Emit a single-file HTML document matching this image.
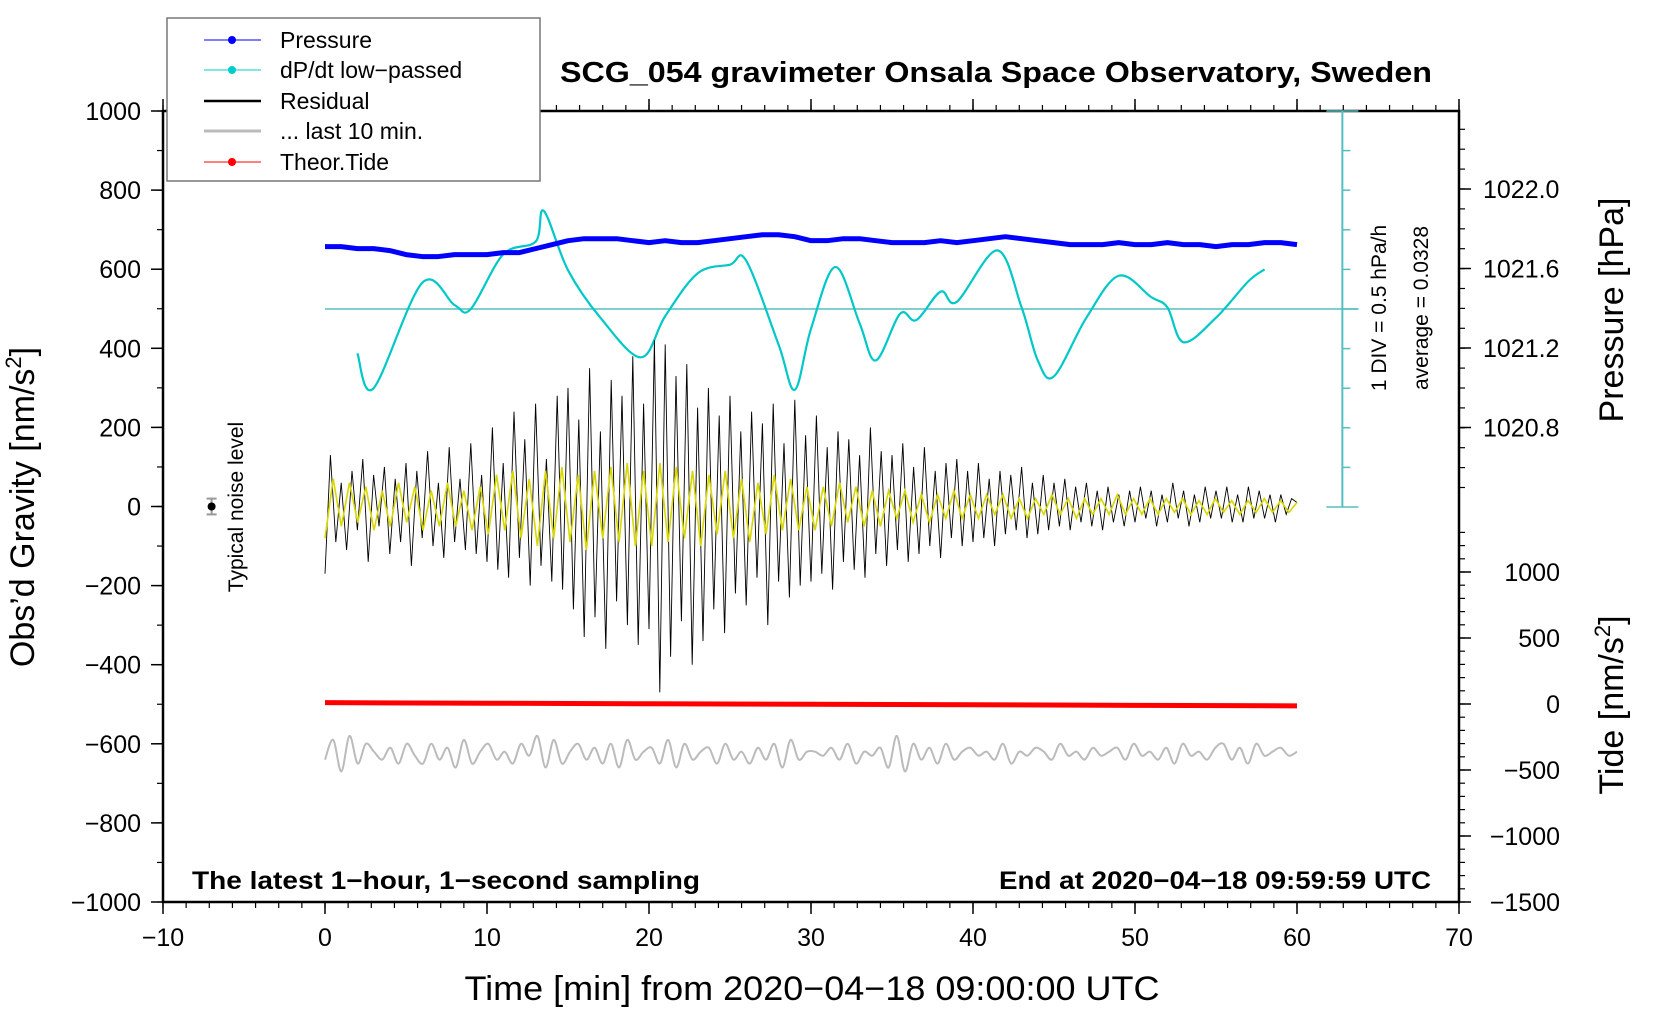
<!DOCTYPE html>
<html><head><meta charset="utf-8"><title>SCG_054 gravimeter</title>
<style>
html,body{margin:0;padding:0;background:#fff;}
svg{display:block;font-family:"Liberation Sans",sans-serif;}
</style></head>
<body>
<svg id="chart" width="1660" height="1020" viewBox="0 0 1660 1020" xmlns="http://www.w3.org/2000/svg">
<rect width="1660" height="1020" fill="#fff"/>
<g id="axes"></g>
<g id="marks"></g>
<text x="996" y="82" text-anchor="middle" font-size="29" font-weight="bold" textLength="872" lengthAdjust="spacingAndGlyphs">SCG_054 gravimeter Onsala Space Observatory, Sweden</text>
<text x="192" y="889" font-size="25" font-weight="bold" textLength="508" lengthAdjust="spacingAndGlyphs">The latest 1−hour, 1−second sampling</text>
<text x="1431" y="889" text-anchor="end" font-size="25" font-weight="bold" textLength="432" lengthAdjust="spacingAndGlyphs">End at 2020−04−18 09:59:59 UTC</text>
<text x="812" y="1000" text-anchor="middle" font-size="34" textLength="695" lengthAdjust="spacingAndGlyphs">Time [min] from 2020−04−18 09:00:00 UTC</text>
<text transform="translate(34,507) rotate(-90)" text-anchor="middle" font-size="34">Obs’d Gravity [nm/s<tspan font-size="22" dy="-13">2</tspan><tspan dy="13">]</tspan></text>
<text transform="translate(1623,310) rotate(-90)" text-anchor="middle" font-size="34">Pressure [hPa]</text>
<text transform="translate(1623,705) rotate(-90)" text-anchor="middle" font-size="34">Tide [nm/s<tspan font-size="22" dy="-13">2</tspan><tspan dy="13">]</tspan></text>
<text transform="translate(1386,308) rotate(-90)" text-anchor="middle" font-size="21">1 DIV = 0.5 hPa/h</text>
<text transform="translate(1428,308) rotate(-90)" text-anchor="middle" font-size="21">average = 0.0328</text>
<text transform="translate(243,507) rotate(-90)" text-anchor="middle" font-size="21">Typical noise level</text>
<g>
<rect x="167" y="18" width="373" height="163" fill="#fff" stroke="#777" stroke-width="1.5"/>
<g><line x1="204" y1="40" x2="261" y2="40" stroke="#0000ff" stroke-width="1"/><circle cx="232" cy="40" r="4" fill="#0000ff"/><text x="280" y="48" font-size="23">Pressure</text></g>
<g><line x1="204" y1="70" x2="261" y2="70" stroke="#00cccc" stroke-width="1"/><circle cx="232" cy="70" r="4" fill="#00cccc"/><text x="280" y="78" font-size="23">dP/dt low−passed</text></g>
<g><line x1="204" y1="101" x2="261" y2="101" stroke="#000" stroke-width="2.5"/><text x="280" y="109" font-size="23">Residual</text></g>
<g><line x1="204" y1="131" x2="261" y2="131" stroke="#bbb" stroke-width="3"/><text x="280" y="139" font-size="23">... last 10 min.</text></g>
<g><line x1="204" y1="162" x2="261" y2="162" stroke="#ff0000" stroke-width="1"/><circle cx="232" cy="162" r="4" fill="#ff0000"/><text x="280" y="170" font-size="23">Theor.Tide</text></g>
</g>
</svg>
<script>
const residual = [-170,130,-90,60,-110,90,-60,120,-140,80,-50,100,-120,70,-90,
110,-150,90,-80,140,-100,60,-130,150,-90,70,-110,160,-120,80,
-140,200,-160,110,-180,240,-130,170,-200,260,-150,120,-190,280,-210,
300,-260,220,-330,350,-280,190,-360,320,-240,280,-300,380,-350,260,
-310,420,-470,410,-380,330,-290,360,-400,250,-340,300,-260,230,-320,
280,-220,190,-250,240,-180,210,-300,260,-190,160,-230,270,-200,180,
-190,230,-170,150,-210,190,-140,170,-160,130,-180,200,-120,140,-150,
130,-110,160,-140,100,-120,150,-100,90,-130,110,-80,120,-100,90,
-90,110,-80,70,-100,90,-70,80,-60,100,-80,60,-70,80,-60,
60,-50,70,-60,50,-40,60,-50,40,-60,50,-40,30,-50,40,
-40,50,-30,40,-50,30,-40,60,-30,40,-50,30,-40,50,-30,
40,-30,50,-40,30,-40,50,-30,40,-30,30,-40,30,-20,20,10];
const residualFiltered = [-80,70,-50,60,-40,50,-60,40,-50,60,-40,50,-60,40,-50,60,-50,40,-60,50,
-70,80,-60,90,-80,70,-100,90,-80,100,-90,80,-110,90,-80,100,-90,110,-100,90,
-100,110,-90,100,-80,90,-100,80,-70,90,-80,70,-90,60,-70,80,-60,70,-60,50,
-60,50,-50,60,-40,50,-50,40,-50,40,-30,40,-40,30,-40,30,-30,40,-30,30,
-30,30,-20,30,-30,20,-30,20,-20,30,-20,20,-30,20,-20,20,-20,30,-20,20,
-20,20,-20,20,-15,20,-20,15,-20,20,-15,15,-20,15,-15,20,-15,15,-15,10];
const last10 = [-640,-590,-670,-580,-650,-600,-620,-640,-610,-650,-600,-630,-650,-600,-640,-610,-660,-590,-650,-620,
-600,-640,-620,-650,-600,-630,-580,-660,-590,-650,-620,-600,-640,-610,-650,-600,-660,-590,-640,-620,
-610,-650,-590,-660,-600,-640,-620,-610,-650,-600,-640,-620,-650,-610,-640,-600,-660,-590,-640,-620,
-620,-630,-610,-640,-600,-650,-620,-630,-610,-660,-580,-670,-600,-640,-610,-650,-600,-640,-620,-610,
-630,-620,-640,-600,-650,-620,-630,-610,-620,-640,-600,-630,-620,-640,-610,-630,-620,-610,-640,-600,
-630,-620,-640,-610,-650,-600,-630,-620,-640,-610,-600,-640,-610,-650,-600,-630,-620,-610,-630,-620];
const pressure = [1021.71,1021.71,1021.70,1021.70,1021.69,1021.67,1021.66,1021.66,1021.67,1021.67,1021.67,1021.68,1021.68,1021.70,1021.72,1021.74,1021.75,1021.75,1021.75,1021.74,1021.73,1021.74,1021.73,1021.73,1021.74,1021.75,1021.76,1021.77,1021.77,1021.76,1021.74,1021.74,1021.75,1021.75,1021.74,1021.73,1021.73,1021.73,1021.74,1021.73,1021.74,1021.75,1021.76,1021.75,1021.74,1021.73,1021.72,1021.72,1021.72,1021.73,1021.72,1021.72,1021.73,1021.72,1021.72,1021.71,1021.72,1021.72,1021.73,1021.73,1021.72];
const dpdtTimes = [2,3,6,8,9,11,13,13.5,15,17,19.5,21,23,25,26,28,29,30,31.5,33,34,35.5,36.5,38,39,41.5,43,44,45,47,49,51,52,53,55,57,58];
const dpdtValues = [-0.56,-1.0,0.33,0.05,0,0.69,0.85,1.24,0.49,-0.11,-0.61,-0.09,0.45,0.56,0.61,-0.45,-1.02,-0.25,0.53,-0.18,-0.65,-0.06,-0.14,0.22,0.09,0.74,0.02,-0.65,-0.85,-0.11,0.42,0.15,0.02,-0.42,-0.11,0.35,0.5];
const tideTimes = [0,10,20,30,40,50,60];
const tideValues = [10,6,2,-2,-6,-10,-14];
const xTicks = [-10,0,10,20,30,40,50,60,70];
const gravTicks = [1000,800,600,400,200,0,-200,-400,-600,-800,-1000];
const pressTicks = [1022.0,1021.6,1021.2,1020.8];
const tideTicks = [1000,500,0,-500,-1000,-1500];

const L=163,R=1459,T=111,B=902;
const X = t => L + (t+10)*(R-L)/80;
const Y = g => T + (1000-g)*(B-T)/2000;
const YP = p => 189 + (1022.0-p)*(79.5/0.4);
const YT = v => 704 - v*0.132;
const YD = v => 309 - v*79.2;
const NS="http://www.w3.org/2000/svg";
const axes=document.getElementById('axes'), marks=document.getElementById('marks');
function mk(tag, attrs, parent){const e=document.createElementNS(NS,tag);for(const k in attrs)e.setAttribute(k,attrs[k]);parent.appendChild(e);return e;}

const frame = mk('rect',{x:L,y:T,width:R-L,height:B-T,fill:'none',stroke:'#000','stroke-width':2.5},axes);


for(let i=0;i<=56;i++){const t=-10+i*10/7;const x=X(t);
 mk('line',{x1:x,y1:B,x2:x,y2:B+6,stroke:'#000','stroke-width':1.2},axes);
 mk('line',{x1:x,y1:T,x2:x,y2:T-6,stroke:'#000','stroke-width':1.2},axes);}
xTicks.forEach(t=>{const x=X(t);
 mk('line',{x1:x,y1:B,x2:x,y2:B+12,stroke:'#000','stroke-width':1.5},axes);
 mk('line',{x1:x,y1:T,x2:x,y2:T-12,stroke:'#000','stroke-width':1.5},axes);
 const tx=mk('text',{x:x,y:946,'text-anchor':'middle','font-size':25},axes);
 tx.textContent=String(t).replace('-','−');
 
 });
for(let g=-1000;g<=1000;g+=100){mk('line',{x1:L,y1:Y(g),x2:L-6,y2:Y(g),stroke:'#000','stroke-width':1.2},axes);}
gravTicks.forEach(g=>{mk('line',{x1:L,y1:Y(g),x2:L-12,y2:Y(g),stroke:'#000','stroke-width':1.5},axes);
 const tx=mk('text',{x:141,y:Y(g)+9,'text-anchor':'end','font-size':25},axes);
 tx.textContent=String(g).replace('-','−');
 
 });
for(let i=0;i<20;i++){const y=T+i*19.9+ (189-T)%19.9; if(y>T+2&&y<507){mk('line',{x1:R,y1:y,x2:R+6,y2:y,stroke:'#000','stroke-width':1.2},axes);}}
pressTicks.forEach(p=>{const y=YP(p);mk('line',{x1:R,y1:y,x2:R+12,y2:y,stroke:'#000','stroke-width':1.5},axes);
 const tx=mk('text',{x:1483,y:y+9,'font-size':25},axes);tx.textContent=p.toFixed(1);
 
 });
for(let v=-1500;v<=1500;v+=100){const y=YT(v);if(y>T+420&&y<=B){mk('line',{x1:R,y1:y,x2:R+6,y2:y,stroke:'#000','stroke-width':1.2},axes);}}
tideTicks.forEach(v=>{const y=YT(v);mk('line',{x1:R,y1:y,x2:R+12,y2:y,stroke:'#000','stroke-width':1.5},axes);
 const tx=mk('text',{x:1560,y:y+9,'text-anchor':'end','font-size':25},axes);tx.textContent=String(v).replace('-','−');
 
 });

const sx=X(62.8);
const bar=mk('line',{x1:sx,y1:YD(2.5),x2:sx,y2:YD(-2.5),stroke:'#55bfbf','stroke-width':2},marks);


for(let k=-5;k<=5;k++){const y=YD(k*0.5);const w=(k===-5||k===5||k===0)?16:8;
 mk('line',{x1:sx-(k===-5||k===5?16:0),y1:y,x2:sx+w,y2:y,stroke:'#55bfbf','stroke-width':1.5},marks);}
const avg=mk('line',{x1:X(0),y1:YD(0),x2:sx+16,y2:YD(0),stroke:'#55bfbf','stroke-width':1.5},marks);



function smooth(pts){let d='M'+pts[0][0]+','+pts[0][1];
 for(let i=0;i<pts.length-1;i++){const p0=pts[i-1]||pts[i],p1=pts[i],p2=pts[i+1],p3=pts[i+2]||p2;
  d+=' C'+(p1[0]+(p2[0]-p0[0])/6)+','+(p1[1]+(p2[1]-p0[1])/6)+' '+(p2[0]-(p3[0]-p1[0])/6)+','+(p2[1]-(p3[1]-p1[1])/6)+' '+p2[0]+','+p2[1];}
 return d;}

const dp=mk('path',{d:smooth(dpdtTimes.map((t,i)=>[X(t),YD(dpdtValues[i])])),fill:'none',stroke:'#00c8c8','stroke-width':2.2},marks);



const pr=mk('polyline',{points:pressure.map((p,i)=>X(i)+','+YP(p)).join(' '),fill:'none',stroke:'#0000ff','stroke-width':5,'stroke-linejoin':'round'},marks);



const rs=mk('polyline',{points:residual.map((g,i)=>X(i*60/(residual.length-1))+','+Y(g)).join(' '),fill:'none',stroke:'#000','stroke-width':0.9},marks);


const rf=mk('polyline',{points:residualFiltered.map((g,i)=>X(i*60/(residualFiltered.length-1))+','+Y(g)).join(' '),fill:'none',stroke:'#d8d800','stroke-width':1.6},marks);



const l10=mk('path',{d:smooth(last10.map((g,i)=>[X(i*60/(last10.length-1)),Y(g)])),fill:'none',stroke:'#bbb','stroke-width':2},marks);



const td=mk('polyline',{points:tideTimes.map((t,i)=>X(t)+','+YT(tideValues[i])).join(' '),fill:'none',stroke:'#ff0000','stroke-width':5},marks);



const nx=X(-7);
mk('line',{x1:nx,y1:Y(20),x2:nx,y2:Y(-20),stroke:'#999','stroke-width':2},marks);
mk('line',{x1:nx-5,y1:Y(20),x2:nx+5,y2:Y(20),stroke:'#999','stroke-width':2},marks);
mk('line',{x1:nx-5,y1:Y(-20),x2:nx+5,y2:Y(-20),stroke:'#999','stroke-width':2},marks);
const nd=mk('circle',{cx:nx,cy:Y(0),r:4,fill:'#000'},marks);


</script>
</body></html>
